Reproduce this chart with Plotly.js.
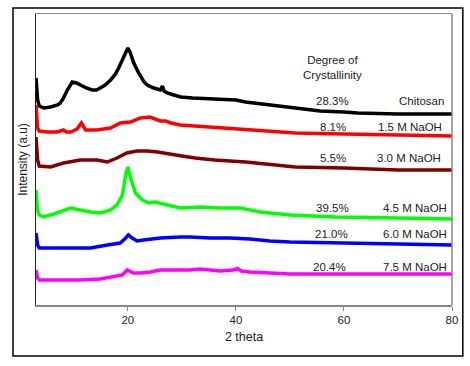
<!DOCTYPE html>
<html>
<head>
<meta charset="utf-8">
<script src="https://cdn.plot.ly/plotly-3.0.1.min.js"></script>
<style>
html,body{margin:0;padding:0;background:#fff;}
#chart{width:470px;height:366px;}
</style>
</head>
<body>
<div id="chart"></div>
<script>
// Data (2 theta, relative intensity with vertical offset)
const chitosanX = [3.0,3.3,3.6,4.5,5.7,7.0,7.5,8.0,8.8,9.7,10.5,11.2,12.3,13.4,14.2,14.9,15.8,16.8,17.6,18.3,19.2,19.6,20.0,20.4,21.1,22.0,22.4,23.0,23.6,24.8,26.0,26.4,26.7,27.3,28.5,29.8,32,35,38,40,41.8,45,50,55.6,60,62.5,70,80];
const chitosanY = [227,205,199,197,198,200,202,206,215,223,222,220,217,215,215,217,220,225,230,237,247,252,257,253,242,232,228,223,220,217,215,219,214,212,210,208,207,206,205,205,203,201,197,194,193,192,191,191];

const naoh15X = [3.0,3.3,3.6,5.1,6.9,8.1,8.6,9.4,10.6,11.4,12.2,14.3,16.8,18.6,20.5,22.3,24.1,26.0,27.0,28,29.7,34.7,40.8,45,51,60,70,80];
const naoh15Y = [200,177,174,173,173,175,173,173,176,182,175,175,177,182,183,187,188,184,184,182,180,178,176,174,172,171,170,169];

const naoh30X = [3.0,3.3,3.6,5.7,8.1,11.2,14.3,16.2,18.0,19.8,21.7,23.6,25.5,27.5,30,32.5,36,41.8,46,51,60,70,80];
const naoh30Y = [168,145,139,138,142,145,145,143,147,152,154,154,153,151,149,147,145,143,141,138,137,135,135];

const naoh45X = [3.0,3.3,3.6,4.4,6.3,8.1,9.4,11.2,13.1,14.9,16.8,18.0,19.0,19.6,20.0,20.5,21.4,22.7,23.9,25,27.8,29.7,33.4,37.1,40.8,44.5,50,58.5,70,80];
const naoh45Y = [115,95,90,88,91,95,97,95,93,92,95,100,110,130,138,127,112,105,102,103,99,97,98,97,97,93,90,88,87,86];

const naoh60X = [3.0,3.3,3.6,5.1,9.4,13.1,16.2,18.6,19.6,20.1,20.8,21.7,22.9,24.2,26,29.7,31.5,35.2,38.9,42.6,46.3,50,60,70,80];
const naoh60Y = [72,60,57,57,57,57,60,62,67,70,67,64,65,66,67,68,68,67,67,66,64,63,62,61,60];

const naoh75X = [3.0,3.3,3.6,5.1,11.2,14.9,17.4,19.0,19.9,21.0,22.4,24.2,26,31.5,33.4,37.1,39.5,40.3,41,42.6,46.3,50,60,70,80];
const naoh75Y = [35,27,25,25,25,26,28,30,35,32,32,33,35,35,36,34,35,36.5,34,33,32,31,31,31,31];

const seriesNames = ["Chitosan","1.5 M NaOH","3.0 M NaOH","4.5 M NaOH","6.0 M NaOH","7.5 M NaOH"];
const crystallinity = ["28.3%","8.1%","5.5%","39.5%","21.0%","20.4%"];
const seriesColors = ["#000000","#ff0000","#800000","#00ff00","#0000ff","#ff00ff"];
const xTicks = [20,40,60,80];

// label positions (layout)
const pctLabelX = [57.9,57.9,57.9,57.9,57.7,57.3];
const nameLabelX = [78.8,78.6,78.4,79.4,79.4,79.4];
const labelY = [204,178,147,97,71,38];

const xs = [chitosanX,naoh15X,naoh30X,naoh45X,naoh60X,naoh75X];
const ys = [chitosanY,naoh15Y,naoh30Y,naoh45Y,naoh60Y,naoh75Y];

const font = "Liberation Sans, Arial, sans-serif";
const traces = xs.map((x,i)=>({
  x:x, y:ys[i], type:"scatter", mode:"lines", name:seriesNames[i],
  line:{color:seriesColors[i], width:3.5}, hoverinfo:"skip"
}));

const annotations = [];
annotations.push({x:57.9, y:238, xref:"x", yref:"y", text:"Degree of<br>Crystallinity",
  showarrow:false, font:{family:font,size:11.5,color:"#222"}, align:"center"});
for(let i=0;i<seriesNames.length;i++){
  annotations.push({x:pctLabelX[i], y:labelY[i], xref:"x", yref:"y", text:crystallinity[i],
    showarrow:false, xanchor:"center", font:{family:font,size:11.5,color:"#222"}});
  annotations.push({x:nameLabelX[i], y:labelY[i], xref:"x", yref:"y", text:seriesNames[i],
    showarrow:false, xanchor:"right", font:{family:font,size:11.5,color:"#222"}});
}

const layout = {
  width:470, height:366,
  margin:{l:36, r:18, t:14, b:61},
  paper_bgcolor:"#fff", plot_bgcolor:"#fff",
  showlegend:false,
  font:{family:font, size:11, color:"#222"},
  xaxis:{range:[3,80], tickvals:xTicks, ticks:"outside", ticklen:4, tickcolor:"#888",
    showline:true, linecolor:"#888", linewidth:1.5, mirror:true, showgrid:false, zeroline:false,
    tickfont:{family:font,size:11.5,color:"#222"},
    title:{text:"2 theta", font:{family:font,size:12.5,color:"#222"}, standoff:7}},
  yaxis:{range:[0,291], showticklabels:false, ticks:"", showline:true, linecolor:"#222", linewidth:1.5,
    showgrid:false, zeroline:false,
    title:{text:"Intensity (a.u)", font:{family:font,size:12,color:"#222"}, standoff:4}},
  annotations:annotations,
  shapes:[
    {type:"line", xref:"paper", yref:"paper", x0:1, x1:1, y0:0, y1:1, line:{color:"#888", width:1.5}},
    {type:"rect", xref:"paper", yref:"paper", x0:-0.0553, x1:1.026, y0:-0.1753, y1:1.0206, line:{color:"#000", width:1.5}}
  ]
};

Plotly.newPlot("chart", traces, layout, {staticPlot:true, displayModeBar:false});
</script>
</body>
</html>
